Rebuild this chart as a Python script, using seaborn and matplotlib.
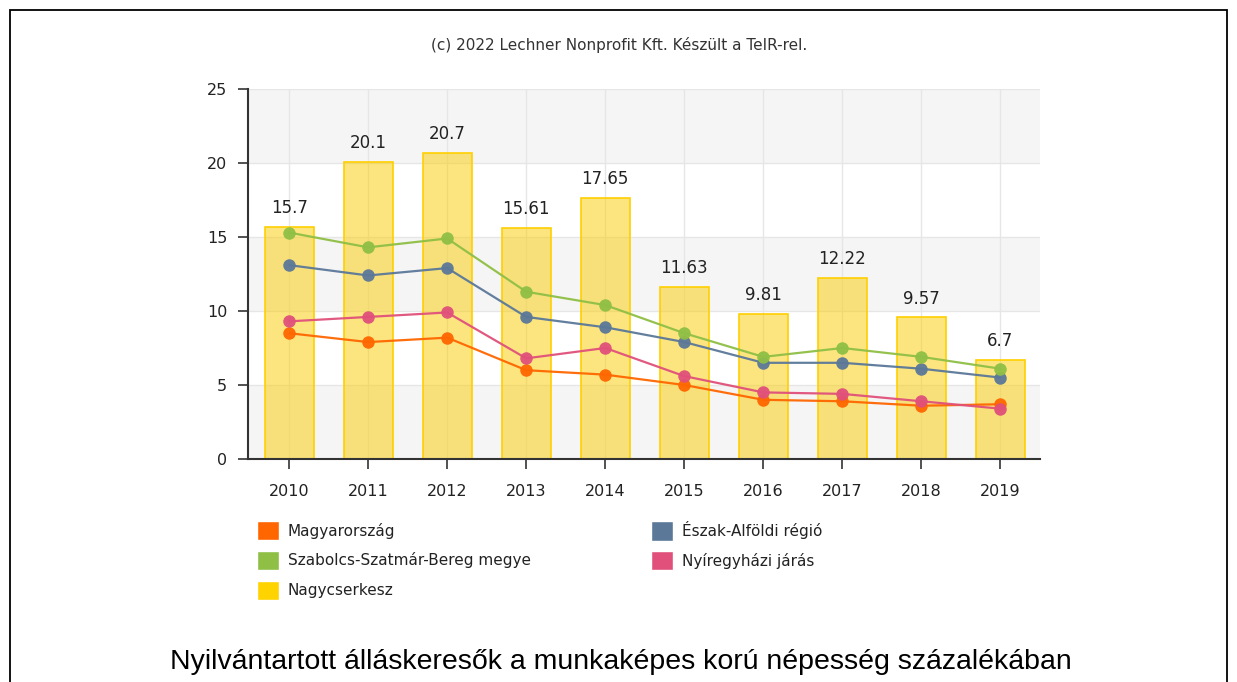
import numpy as np
import pandas as pd
import matplotlib
matplotlib.use("Agg")
import matplotlib.pyplot as plt
import seaborn as sns
from matplotlib.patches import Patch, Rectangle

# ==============================================================================
# DATA
# ==============================================================================
evek = ["2010", "2011", "2012", "2013", "2014", "2015", "2016", "2017", "2018", "2019"]
nagycserkesz = [15.7, 20.1, 20.7, 15.61, 17.65, 11.63, 9.81, 12.22, 9.57, 6.7]
magyarorszag = [8.5, 7.9, 8.2, 6.0, 5.7, 5.0, 4.0, 3.9, 3.6, 3.7]
eszak_alfold = [13.1, 12.4, 12.9, 9.6, 8.9, 7.9, 6.5, 6.5, 6.1, 5.5]
szabolcs = [15.3, 14.3, 14.9, 11.3, 10.4, 8.5, 6.9, 7.5, 6.9, 6.1]
nyiregyhaza = [9.3, 9.6, 9.9, 6.8, 7.5, 5.6, 4.5, 4.4, 3.9, 3.4]

sorozat_nevek = ["Magyarország", "Észak-Alföldi régió", "Szabolcs-Szatmár-Bereg megye",
                 "Nyíregyházi járás"]
sorozat_adatok = [magyarorszag, eszak_alfold, szabolcs, nyiregyhaza]
szinek = {"Magyarország": "#FF6600", "Észak-Alföldi régió": "#5B7899",
          "Szabolcs-Szatmár-Bereg megye": "#8FBF45", "Nyíregyházi járás": "#E0507A"}
sarga = "#FFD300"

df_bar = pd.DataFrame({"Ev": evek, "Ertek": nagycserkesz})
df_line = pd.concat([
    pd.DataFrame({"pos": np.arange(len(evek)), "Ertek": v, "Sorozat": n})
    for n, v in zip(sorozat_nevek, sorozat_adatok)
], ignore_index=True)

# ==============================================================================
# PLOT
# ==============================================================================
sns.set_style("white")
plt.rcParams["font.family"] = ["DejaVu Sans"]

fig = plt.figure(figsize=(12.37, 6.82), dpi=100)
ax = fig.add_axes([248 / 1237, 1 - 459 / 682, 792 / 1237, 370 / 682])

# alternating bands
for lo in (0, 10, 20):
    ax.axhspan(lo, lo + 5, color="#F5F5F5", zorder=0, lw=0)

sns.barplot(data=df_bar, x="Ev", y="Ertek", ax=ax, width=0.62,
            color=sarga, edgecolor="#FFD000", linewidth=1.2, zorder=2)
for p in ax.containers[0]:
    p.set_facecolor((0.98, 0.80, 0.0, 0.5))
ax.bar_label(ax.containers[0], fmt="%g", padding=7, fontsize=12, color="#222222")

sns.lineplot(data=df_line, x="pos", y="Ertek", hue="Sorozat", palette=szinek,
             hue_order=sorozat_nevek, marker="o", markersize=9, markeredgewidth=0,
             linewidth=1.6, alpha=0.95, legend=False, ax=ax, zorder=3)

ax.set_xlim(-0.52, 9.5)
ax.set_ylim(0, 25)
ax.set_yticks([0, 5, 10, 15, 20, 25])
ax.set_xticks(range(len(evek)))
ax.set_xticklabels(evek)
ax.set_xlabel("")
ax.set_ylabel("")
ax.grid(True, color="#E6E6E6", linewidth=1, zorder=1)
ax.set_axisbelow(True)
for s in ("top", "right"):
    ax.spines[s].set_visible(False)
for s in ("left", "bottom"):
    ax.spines[s].set_color("#333333")
    ax.spines[s].set_linewidth(1.5)
ax.tick_params(axis="both", direction="out", length=7, width=1.2, color="#333333",
               labelsize=11.5, labelcolor="#222222", left=True, bottom=True)
ax.tick_params(axis="x", pad=11)
ax.tick_params(axis="y", pad=8)

fig.text(0.5005, 1 - 45 / 682, "(c) 2022 Lechner Nonprofit Kft. Készült a TeIR-rel.",
         ha="center", va="center", fontsize=11, color="#333333")

# legend, two columns
leg_kw = dict(loc="upper left", frameon=False, fontsize=11, handlelength=1.45,
              handleheight=1.55, handletextpad=0.55, labelspacing=0.7, borderpad=0,
              borderaxespad=0, labelcolor="#222222")
fig.legend([Patch(facecolor=szinek["Magyarország"]),
            Patch(facecolor=szinek["Szabolcs-Szatmár-Bereg megye"]),
            Patch(facecolor=sarga)],
           ["Magyarország", "Szabolcs-Szatmár-Bereg megye", "Nagycserkesz"],
           bbox_to_anchor=(257 / 1237, 1 - 521 / 682), **leg_kw)
fig.legend([Patch(facecolor=szinek["Észak-Alföldi régió"]),
            Patch(facecolor=szinek["Nyíregyházi járás"])],
           ["Észak-Alföldi régió", "Nyíregyházi járás"],
           bbox_to_anchor=(651 / 1237, 1 - 521 / 682), **leg_kw)

fig.text(0.502, 1 - 662 / 682, "Nyilvántartott álláskeresők a munkaképes korú népesség százalékában",
         ha="center", va="center", fontsize=20.5, color="black",
         family=["Liberation Sans", "DejaVu Sans"])

# frame
fig.patches.append(Rectangle((10 / 1237, -0.02), 1217 / 1237, 1.02 - 10 / 682,
                             transform=fig.transFigure, fill=False,
                             edgecolor="black", linewidth=1.3))

fig.savefig("out.png", dpi=100)
